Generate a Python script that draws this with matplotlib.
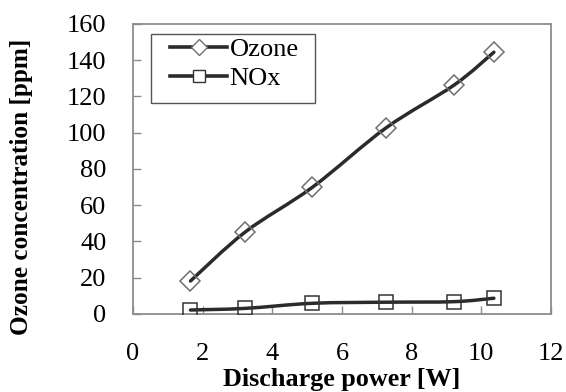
import matplotlib
matplotlib.use("Agg")
import numpy as np
import matplotlib.pyplot as plt
from matplotlib.path import Path
from matplotlib.patches import PathPatch, Rectangle
from matplotlib.lines import Line2D

plt.rcParams['font.family'] = ['Liberation Serif', 'DejaVu Serif']

# discharge power [W] and measured concentrations [ppm]
power = [1.65, 3.22, 5.15, 7.26, 9.22, 10.36]
ozone = [18.2, 45.2, 69.9, 102.6, 126.3, 144.4]
nox = [2.2, 3.1, 5.9, 6.5, 6.8, 8.7]

x_ticks = [0, 2, 4, 6, 8, 10, 12]
y_ticks = [0, 20, 40, 60, 80, 100, 120, 140, 160]

LINE_COLOR = '#2b2b2b'
SPINE_COLOR = '#8c8c8c'


def smooth_path(xs, ys):
    """Bezier path through the points, spreadsheet-style smoothing."""
    pts = np.column_stack([xs, ys]).astype(float)
    n = len(pts)
    verts = [pts[0]]
    codes = [Path.MOVETO]
    for i in range(n - 1):
        p_prev = pts[i - 1] if i > 0 else pts[i]
        p0, p1 = pts[i], pts[i + 1]
        p_next = pts[i + 2] if i + 2 < n else pts[i + 1]
        c1 = p0 + (p1 - p_prev) / 6.0
        c2 = p1 - (p_next - p0) / 6.0
        verts += [c1, c2, p1]
        codes += [Path.CURVE4] * 3
    return Path(verts, codes)


fig = plt.figure(figsize=(5.66, 3.92), dpi=100)
ax = fig.add_axes([0.235, 0.199, 0.7385, 0.740])

series = [
    (ozone, 'D', '#707070', 'Ozone'),
    (nox, 's', '#333333', 'NOx'),
]
handles = []
for values, marker, edge, label in series:
    ax.add_patch(PathPatch(smooth_path(power, values), facecolor='none',
                           edgecolor=LINE_COLOR, lw=2.5, capstyle='round',
                           zorder=3))
    ax.plot(power, values, ls='none', marker=marker, ms=10.5,
            mfc='none', mec=edge, mew=1.1, zorder=4)
    handles.append(Line2D([], [], color=LINE_COLOR, lw=2.6, marker=marker,
                          ms=8, mfc='white', mec=edge, mew=1.0, label=label))

ax.set_xlim(0, 12)
ax.set_ylim(0, 160)
ax.set_xticks(x_ticks)
ax.set_yticks(y_ticks)
ax.tick_params(axis='both', direction='in', length=6, width=1,
               color=SPINE_COLOR, labelsize=19)
ax.tick_params(axis='y', pad=19)
ax.tick_params(axis='x', pad=21)
for side in ax.spines.values():
    side.set_color(SPINE_COLOR)
    side.set_linewidth(1.3)

# legend box drawn separately so the side padding can be wider than the top
ax.add_patch(Rectangle((0.0423, 0.7276), 0.3931, 0.2379,
                       transform=ax.transAxes, facecolor='white',
                       edgecolor='#555555', lw=1.0, zorder=5))
leg = ax.legend(handles=handles, loc='upper left',
                bbox_to_anchor=(0.0885, 0.953), fontsize=19,
                frameon=False, handlelength=2.16, handletextpad=0.1,
                borderpad=0, labelspacing=0.22, borderaxespad=0)
leg.set_zorder(6)

fig.text(342 / 566, 1 - 386.3 / 392, 'Discharge power [W]', ha='center',
         va='baseline', fontsize=18.8, fontweight='bold')
fig.text(22 / 566, 1 - 187 / 392, 'Ozone concentration [ppm]', ha='center',
         va='center', rotation=90, fontsize=18.2, fontweight='bold')

fig.savefig('out.png', dpi=100)
